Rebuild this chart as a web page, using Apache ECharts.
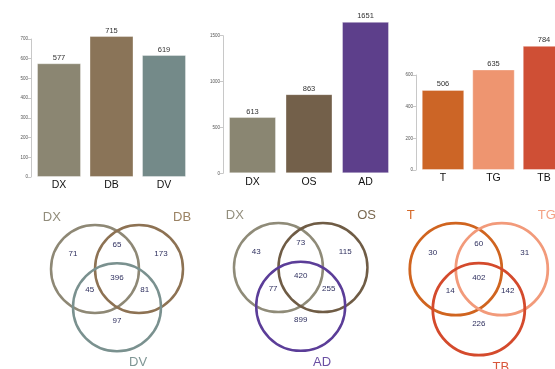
<!DOCTYPE html>
<html>
<head>
<meta charset="utf-8">
<script src="https://cdn.jsdelivr.net/npm/echarts@6/dist/echarts.min.js"></script>
<style>
  html, body { margin: 0; padding: 0; background: #ffffff; }
  #chart { width: 555px; height: 369px; }
</style>
</head>
<body>
<div id="chart"></div>
<script>
// ---- data -------------------------------------------------------------
// Group sizes per comparison
const groupsA = ['DX', 'DB', 'DV'];
const sizesA  = [577, 715, 619];
const groupsB = ['DX', 'OS', 'AD'];
const sizesB  = [613, 863, 1651];
const groupsC = ['T', 'TG', 'TB'];
const sizesC  = [506, 635, 784];

// Y axis ranges (max, tick step) for the three bar panels
const axisMax  = [700, 1500, 600];
const axisStep = [100, 500, 200];

// Venn region counts, order: [1 only, 1∩2, 2 only, 1∩2∩3, 1∩3, 2∩3, 3 only]
const vennA = [71, 65, 173, 396, 45, 81, 97];
const vennB = [43, 73, 115, 420, 77, 255, 899];
const vennC = [30, 60, 31, 402, 14, 142, 226];

// ---- styling ------------------------------------------------------------
const barColors = [
  ['#8b8672', '#8a7458', '#748a89'],
  ['#8a8672', '#73604a', '#5d3f8b'],
  ['#cc6526', '#ee9570', '#cf4f35']
];
const ringColors = [
  ['#8e8875', '#8d7253', '#7a918f'],
  ['#8f8b78', '#6f5c45', '#5b3d98'],
  ['#d0641f', '#f29a7a', '#d44a2c']
];
const nameColors = [
  ['#918c7b', '#9a8263', '#7f9695'],
  ['#928e7d', '#7a684f', '#6a4fa3'],
  ['#d56a2a', '#f3a184', '#d8553a']
];

// Bar panel placement (px): the grid spans first..last bar centre,
// the y axis is pushed out to the left by yOffset.
const barGrids = [
  { left: 59,    top: 39,   width: 105,   height: 138 },
  { left: 252.5, top: 35.7, width: 113,   height: 137.6 },
  { left: 443,   top: 75,   width: 101,   height: 95 }
];
const yOffsets  = [28, 29.5, 27];
const barWidths = [44, 47, 42.5];

// Venn panel centres (px) and ring radius
const vennCentres = [[117, 281.8], [300.7, 280.5], [478.8, 282.5]];
const vennRadius  = [44, 44.5, 46];

// Venn geometry in units of the ring radius
const ringPos   = [[-0.5, -0.29], [0.5, -0.29], [0, 0.58]];
const regionPos = [[-1.0, -0.64], [0, -0.85], [1.0, -0.64], [0, -0.1],
                   [-0.62, 0.19], [0.63, 0.19], [0, 0.89]];
const namePos   = [[-1.48, -1.46], [1.48, -1.46], [0.48, 1.84]];

const FONT = '"Liberation Sans", Arial, Helvetica, sans-serif';
const HALF = 75;    // half-size of each Venn grid, axis units == px (kept inside the canvas)

const groups = [groupsA, groupsB, groupsC];
const sizes  = [sizesA, sizesB, sizesC];
const venns  = [vennA, vennB, vennC];

const grid = [], xAxis = [], yAxis = [], series = [];

// ---- bar panels ---------------------------------------------------------
for (let i = 0; i < 3; i++) {
  grid.push(Object.assign({ containLabel: false }, barGrids[i]));
  xAxis.push({
    type: 'category', gridIndex: i, data: groups[i], boundaryGap: false,
    axisLine: { show: false }, axisTick: { show: false },
    axisLabel: { fontFamily: FONT, fontSize: 10.5, color: '#111', margin: 3 }
  });
  yAxis.push({
    type: 'value', gridIndex: i, min: 0, max: axisMax[i], interval: axisStep[i],
    offset: yOffsets[i],
    splitLine: { show: false },
    axisLine: { show: true, lineStyle: { color: '#c8c8c8', width: 1 } },
    axisTick: { show: true, length: 3, lineStyle: { color: '#c8c8c8' } },
    axisLabel: {
      fontFamily: FONT, fontSize: 4.5, color: '#555', margin: 3,
      formatter: v => String(v)
    }
  });
  series.push({
    type: 'bar', xAxisIndex: i, yAxisIndex: i, clip: false,
    barWidth: barWidths[i],
    data: sizes[i].map((v, k) => ({
      value: v,
      itemStyle: { color: barColors[i][k], borderColor: 'rgba(255,255,255,0.35)', borderWidth: 1 }
    })),
    label: {
      show: true, position: 'top', distance: 1.5,
      fontFamily: FONT, fontSize: 7.5, color: '#333'
    },
    silent: true, animation: false
  });
}

// ---- Venn panels --------------------------------------------------------
for (let i = 0; i < 3; i++) {
  const g = 3 + i;
  const r = vennRadius[i];
  grid.push({
    left: vennCentres[i][0] - HALF, top: vennCentres[i][1] - HALF,
    width: 2 * HALF, height: 2 * HALF
  });
  xAxis.push({ type: 'value', gridIndex: g, min: -HALF, max: HALF, show: false });
  yAxis.push({ type: 'value', gridIndex: g, min: -HALF, max: HALF, inverse: true, show: false });

  // rings
  series.push({
    type: 'custom', xAxisIndex: g, yAxisIndex: g, animation: false, silent: true, clip: false,
    data: ringPos.map((p, k) => [p[0] * r, p[1] * r, r, k]),
    renderItem: (params, api) => {
      const c = api.coord([api.value(0), api.value(1)]);
      const rr = api.size([api.value(2), 0])[0];
      return {
        type: 'circle',
        shape: { cx: c[0], cy: c[1], r: rr },
        style: { fill: 'none', stroke: ringColors[i][api.value(3)], lineWidth: i === 2 ? 2.8 : 2.5 }
      };
    }
  });

  // region counts
  series.push({
    type: 'custom', xAxisIndex: g, yAxisIndex: g, animation: false, silent: true, clip: false,
    data: regionPos.map((p, k) => [p[0] * r, p[1] * r, venns[i][k]]),
    renderItem: (params, api) => {
      const c = api.coord([api.value(0), api.value(1)]);
      return {
        type: 'text',
        x: c[0], y: c[1],
        style: {
          text: String(api.value(2)), fill: '#2e2f5e',
          font: '8px ' + FONT, align: 'center', verticalAlign: 'middle'
        }
      };
    }
  });

  // set names
  series.push({
    type: 'custom', xAxisIndex: g, yAxisIndex: g, animation: false, silent: true, clip: false,
    data: namePos.map((p, k) => [p[0] * r, p[1] * r, k]),
    renderItem: (params, api) => {
      const c = api.coord([api.value(0), api.value(1)]);
      const k = api.value(2);
      return {
        type: 'text',
        x: c[0], y: c[1],
        style: {
          text: groups[i][k], fill: nameColors[i][k],
          font: '13px ' + FONT, align: 'center', verticalAlign: 'middle'
        }
      };
    }
  });
}

const chart = echarts.init(document.getElementById('chart'), null, { renderer: 'canvas' });
chart.setOption({
  backgroundColor: '#ffffff',
  animation: false,
  grid, xAxis, yAxis, series
});
</script>
</body>
</html>
